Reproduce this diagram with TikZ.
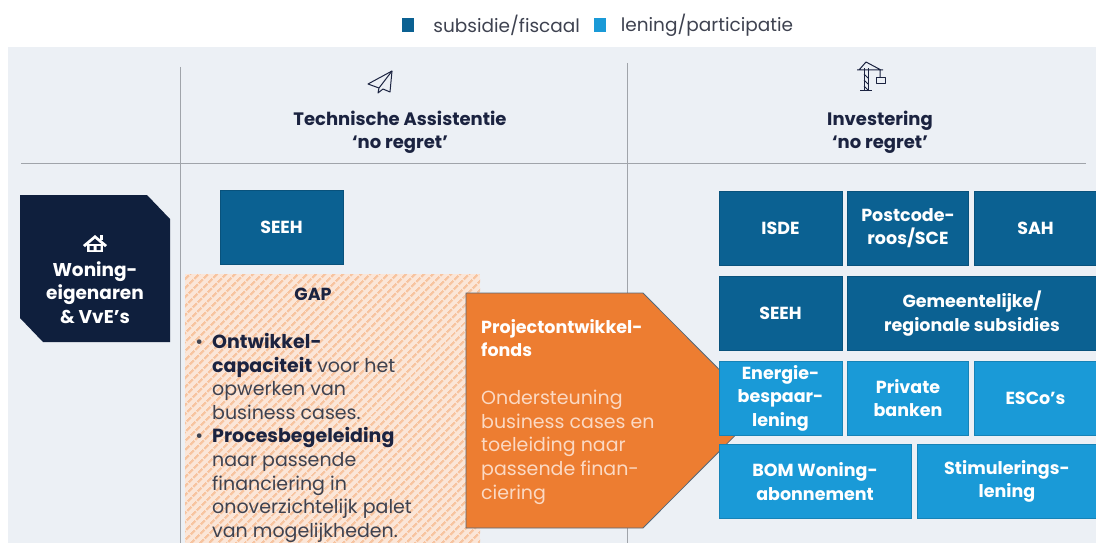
\documentclass[tikz,border=0pt]{standalone}
\usepackage{fontspec}
\setmainfont{Poppins}
\usepackage{tikz}
\usetikzlibrary{positioning, calc, patterns.meta}

\definecolor{panel}{HTML}{ECF0F5}
\definecolor{navy}{HTML}{0F1F3D}
\definecolor{navytext}{HTML}{1B2340}
\definecolor{textgray}{HTML}{3E4250}
\definecolor{subblue}{HTML}{0B6192}
\definecolor{lenblue}{HTML}{1A9AD7}
\definecolor{fondsorange}{HTML}{ED7D31}
\definecolor{fondsedge}{HTML}{56697A}
\definecolor{fondstext}{HTML}{FBD9C3}
\definecolor{peach}{HTML}{FBE6D8}
\definecolor{stripe}{HTML}{F7C4A0}
\definecolor{linegray}{HTML}{A0A4AA}

\newcommand{\boxfont}{\fontsize{17.5}{23.5}\selectfont\bfseries}
\newcommand{\headfont}{\fontsize{18}{23}\selectfont\bfseries}
\newcommand{\ownerfont}{\fontsize{18.5}{23.5}\selectfont\bfseries}
\newcommand{\bodyfont}{\fontsize{19}{23.6}\selectfont}
\newcommand{\legfont}{\fontsize{18.5}{22}\selectfont}

\begin{document}
\begin{tikzpicture}[x=1pt,y=-1pt,
	subbox/.style={fill=subblue, draw=subblue!85!black, line width=0.5pt, text=white,
		inner sep=0pt, minimum height=74pt, align=center, font=\boxfont},
	lenbox/.style={subbox, fill=lenblue, draw=lenblue!85!black},
	head/.style={align=center, text=navytext, font=\headfont},
	divider/.style={draw=linegray, line width=0.7pt},
	legsq/.style={minimum width=12pt, minimum height=14pt, inner sep=0pt},
	legtext/.style={inner sep=0pt, text=textgray, font=\legfont},
	icon/.style={draw=navytext, line width=1pt, line join=round}]
	\useasboundingbox (0,0) rectangle (1096,543);

	\node[legsq, fill=subblue] (sqsub) at (408,25) {};
	\node[legtext, right=19pt of sqsub] (legsub) {subsidie/fiscaal};
	\node[legsq, fill=lenblue, right=14pt of legsub] (sqlen) {};
	\node[legtext, right=14pt of sqlen] (leglen) {lening/participatie};

	\fill[panel] (8,47) rectangle (1096,543);
	\draw[divider] (21,163) -- (1086,163);
	\draw[divider] (180,67) -- (180,543);
	\draw[divider] (627,63) -- (627,543);

	\draw[icon] (392,71) -- (368,84) -- (379,88) -- (378,93) -- (383,89) -- (390,92) -- cycle;
	\draw[icon] (392,71) -- (379,88);
	\draw[icon] (864,91) -- (864,68) (868,91) -- (868,68) (860,91) -- (872,91);
	\draw[icon] (864,74) -- (868,78) (864,80) -- (868,84) (864,86) -- (868,90);
	\draw[icon] (857,70) -- (883,70) (859,70) -- (866,62) -- (881,70) (880,70) -- (880,78);
	\draw[icon] (876,78) rectangle (885,84);

	\node[head] (ta) at (400,132.5) {Technische Assistentie\\‘no regret’};
	\node[head] (inv) at (880,132.5) {Investering\\‘no regret’};

	\fill[navy] (20,195) -- (147,195) -- (170,219) -- (170,342) -- (43,342) -- (20,318) -- cycle;
	\fill[white] (83,245) -- (95,235) -- (107,245) -- (105,247) -- (95,238.5) -- (85,247) -- cycle;
	\fill[white] (100,235) rectangle (103,240);
	\fill[white] (87,244) rectangle (103,252);
	\fill[navy] (89.5,246) rectangle (93.5,250) (96.5,246) rectangle (100.5,250);
	\node[align=center, text=white, font=\ownerfont] (owner) at (95,292.5)
		{Woning-\\eigenaren\\\& VvE’s};

	\node[subbox, minimum width=123pt] (seeh) at (281.5,227.5) {SEEH};

	\fill[peach] (185,274) rectangle (480,543);
	\fill[pattern={Lines[angle=45, distance=6.5pt, line width=2.4pt]}, pattern color=stripe]
		(185,274) rectangle (480,543);
	\node[text=navytext, font=\boxfont] (gap) at (313,294) {GAP};
	\node[anchor=north west, align=left, inner sep=0pt, text=textgray, font=\bodyfont] (gaptext) at (212,333)
		{\llap{\textbullet\hspace{9pt}}\textcolor{navytext}{\textbf{Ontwikkel-}}\\
		\textcolor{navytext}{\textbf{capaciteit}} voor het\\
		opwerken van\\
		business cases.\\
		\llap{\textbullet\hspace{9pt}}\textcolor{navytext}{\textbf{Procesbegeleiding}}\\
		naar passende\\
		financiering in\\
		onoverzichtelijk palet\\
		van mogelijkheden.};

	\filldraw[fill=fondsorange, draw=fondsedge, line width=0.8pt]
		(466,293) -- (643,293) -- (760,410.5) -- (643,528) -- (466,528) -- cycle;
	\node[anchor=north west, align=left, inner sep=0pt, text=white, font=\boxfont] (fondstitle) at (481,319)
		{Projectontwikkel-\\fonds};
	\node[anchor=north west, align=left, inner sep=0pt, text=fondstext, font=\bodyfont] (fondsbody) at (481,390)
		{Ondersteuning\\business cases en\\toeleiding naar\\passende finan-\\ciering};

	\node[subbox, minimum width=123pt] (isde) at (780.5,228) {ISDE};
	\node[subbox, minimum width=121pt, right=5pt of isde] (postcode) {Postcode-\\roos/SCE};
	\node[subbox, minimum width=123pt, right=5pt of postcode] (sah) {SAH};
	\node[subbox, minimum width=123pt, below=11pt of isde] (seehinv) {SEEH};
	\node[subbox, minimum width=249pt, right=5pt of seehinv] (gemeente) {Gemeentelijke/\\regionale subsidies};
	\node[lenbox, minimum width=123pt, below=10pt of seehinv] (energie) {Energie-\\bespaar-\\lening};
	\node[lenbox, minimum width=121pt, right=5pt of energie] (banken) {Private\\banken};
	\node[lenbox, minimum width=123pt, right=5pt of banken] (esco) {ESCo’s};
	\node[lenbox, minimum width=192pt, below=9pt of energie.south west, anchor=north west] (bom) {BOM Woning-\\abonnement};
	\node[lenbox, minimum width=179pt, right=6pt of bom] (stimulering) {Stimulerings-\\lening};
\end{tikzpicture}
\end{document}
